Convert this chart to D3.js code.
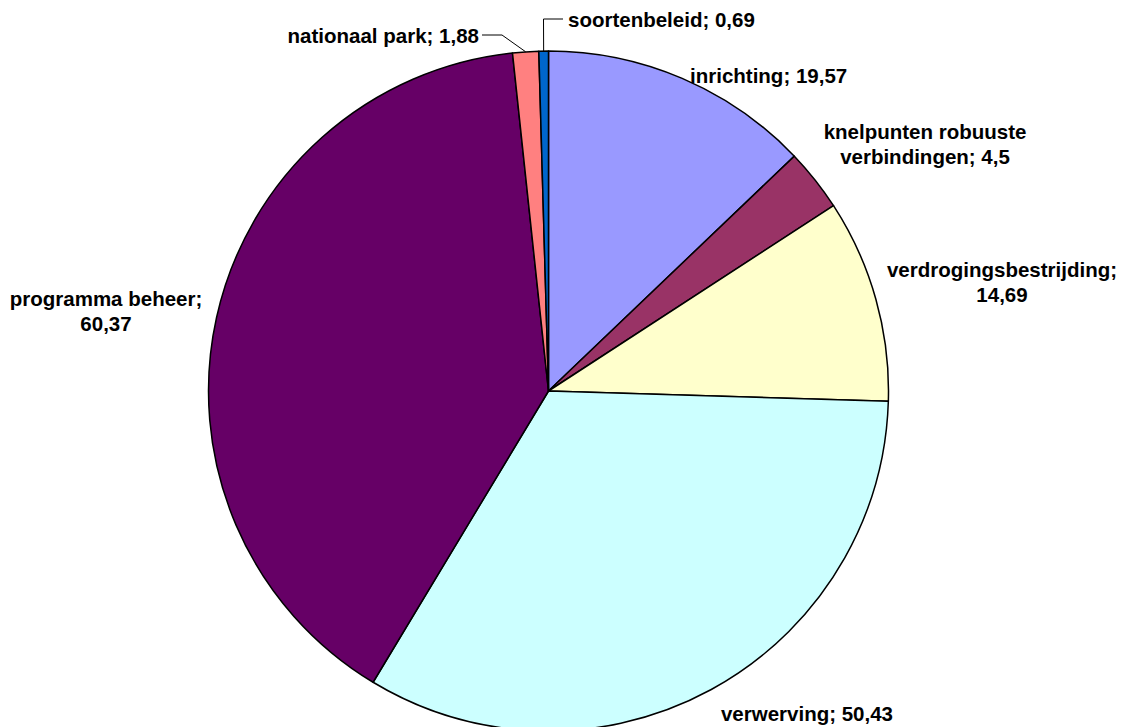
<!DOCTYPE html>
<html>
<head>
<meta charset="utf-8">
<script src="https://cdn.jsdelivr.net/npm/d3@7"></script>
<style>
  html, body { margin: 0; padding: 0; background: #fff; }
  svg { display: block; }
  text { font-family: "Liberation Sans", Arial, sans-serif; font-weight: bold; font-size: 20.5px; fill: #000; }
</style>
</head>
<body>
<svg id="chart" width="1122" height="727"></svg>
<script>
const categories = ["inrichting", "knelpunten robuuste verbindingen", "verdrogingsbestrijding", "verwerving", "programma beheer", "nationaal park", "soortenbeleid"];
const values = [19.57, 4.5, 14.69, 50.43, 60.37, 1.88, 0.69];
const valueLabels = ["19,57", "4,5", "14,69", "50,43", "60,37", "1,88", "0,69"];
const colors = ["#9999FF", "#993366", "#FFFFCC", "#CCFFFF", "#660066", "#FF8080", "#0066CC"];

// label layout (text lines, anchor positions, relative to the page)
const labelLayout = [
  { lines: ["inrichting; 19,57"], x: 690, y: 83, anchor: "start" },
  { lines: ["knelpunten robuuste", "verbindingen; 4,5"], x: 925, y: 139, anchor: "middle" },
  { lines: ["verdrogingsbestrijding;", "14,69"], x: 1002, y: 277, anchor: "middle" },
  { lines: ["verwerving; 50,43"], x: 807, y: 721, anchor: "middle" },
  { lines: ["programma beheer;", "60,37"], x: 106, y: 306, anchor: "middle" },
  { lines: ["nationaal park; 1,88"], x: 479, y: 43, anchor: "end", leader: [[502, 35], [482, 35]] },
  { lines: ["soortenbeleid; 0,69"], x: 568, y: 27, anchor: "start", leader: [[543.5, 19], [563, 19]] }
];

const svg = d3.select("#chart");
const cx = 548.5, cy = 391, r = 340;
const g = svg.append("g").attr("transform", `translate(${cx},${cy})`);

const pie = d3.pie().sort(null).value(d => d)
  .startAngle(0).endAngle(2 * Math.PI);
const arcs = pie(values);
const arc = d3.arc().innerRadius(0).outerRadius(r);

g.selectAll("path.slice")
  .data(arcs)
  .enter().append("path")
  .attr("class", "slice")
  .attr("d", arc)
  .attr("fill", (d, i) => colors[i])
  .attr("stroke", "#000")
  .attr("stroke-width", 1.5)
  .attr("stroke-linejoin", "round");

// leader lines
arcs.forEach((a, i) => {
  const L = labelLayout[i];
  if (!L.leader) return;
  const mid = (a.startAngle + a.endAngle) / 2;
  const p0 = [cx + r * Math.sin(mid), cy - r * Math.cos(mid)];
  const pts = [p0].concat(L.leader);
  svg.append("path")
    .attr("d", d3.line()(pts))
    .attr("fill", "none")
    .attr("stroke", "#000")
    .attr("stroke-width", 1);
});

// labels
labelLayout.forEach((L, i) => {
  const t = svg.append("text")
    .attr("x", L.x).attr("y", L.y)
    .attr("text-anchor", L.anchor);
  L.lines.forEach((ln, j) => {
    t.append("tspan").attr("x", L.x).attr("dy", j === 0 ? 0 : 24.5).text(ln);
  });
});
</script>
</body>
</html>
